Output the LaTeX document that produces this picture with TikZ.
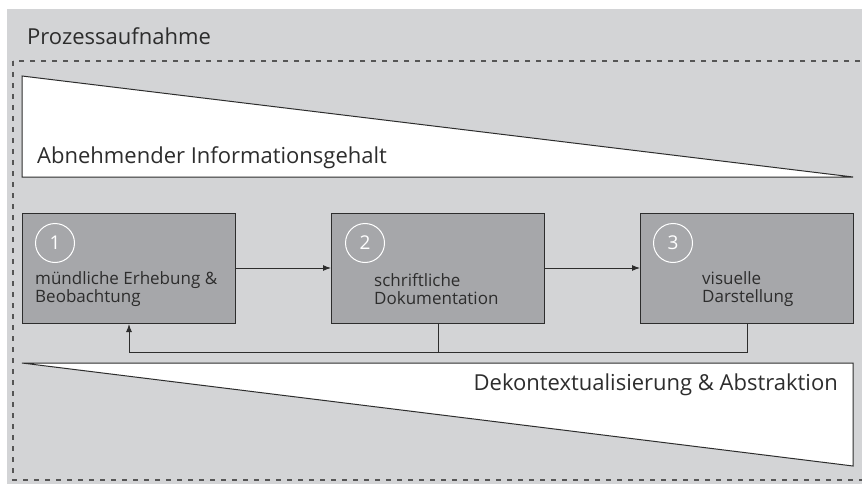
\documentclass[tikz,border=0pt]{standalone}
\usepackage{fontspec}
\setmainfont{Open Sans}
\usetikzlibrary{arrows.meta, positioning, calc}
\definecolor{bggray}{RGB}{211,212,214}
\definecolor{boxgray}{RGB}{166,167,170}
\definecolor{linegray}{RGB}{45,45,45}
\definecolor{dashgray}{RGB}{85,85,85}

\tikzset{
  procbox/.style={draw=linegray, fill=boxgray, line width=1pt, minimum width=213pt,
    minimum height=110pt, anchor=north west, inner sep=0pt},
  numcirc/.style={circle, draw=white, line width=1pt, minimum size=39pt,
    inner sep=0pt, text=white, font=\fontsize{19}{19}\selectfont},
  proctext/.style={anchor=west, align=left, text=linegray, inner sep=0pt,
    font=\fontsize{17}{18.5}\selectfont},
  bigtext/.style={text=linegray, inner sep=0pt, font=\fontsize{22}{22}\selectfont},
  flow/.style={-{Latex[length=8pt, width=6pt]}, draw=linegray, line width=1pt}
}

\begin{document}
\begin{tikzpicture}[x=1pt, y=-1pt]
  \useasboundingbox (0,0) rectangle (862,484);

  % background and dashed frame
  \fill[bggray] (7,9) rectangle (862,484);
  \begin{scope}
    \clip (7,9) rectangle (862,484);
    \draw[dashgray, line width=1.5pt, dash pattern=on 5pt off 6pt] (13,61) rectangle (870,480);
  \end{scope}
  \node[bigtext, anchor=west] (title) at (27,36) {Prozessaufnahme};

  % top wedge
  \draw[linegray, fill=white, line width=1pt] (22,76) -- (853,177) -- (22,177) -- cycle;
  \node[bigtext, anchor=west] (info) at (37,158) {Abnehmender Informationsgehalt};

  % bottom wedge
  \draw[linegray, fill=white, line width=1pt] (22,363) -- (853,363) -- (853,466) -- cycle;
  \node[bigtext, anchor=east] (abstr) at (838,385) {Dekontextualisierung \& Abstraktion};

  % process steps
  \node[procbox] (b1) at (22,213) {};
  \node[procbox] (b2) at (331,213) {};
  \node[procbox] (b3) at (640,213) {};

  \node[numcirc] (n1) at (55,243) {1};
  \node[numcirc] (n2) at (365,243) {2};
  \node[numcirc] (n3) at (673,243) {3};

  \node[proctext] (t1) at (35,289) {mündliche Erhebung \&\\Beobachtung};
  \node[proctext] (t2) at (374,289) {schriftliche\\Dokumentation};
  \node[proctext] (t3) at (702,289) {visuelle\\Darstellung};

  % connectors
  \draw[flow] (b1.east |- 0,268) -- (b2.west |- 0,268);
  \draw[flow] (b2.east |- 0,268) -- (b3.west |- 0,268);
  \draw[flow] (b3.south) -- ++(0,28) -| (b1.south);
  \draw[draw=linegray, line width=1pt] (b2.south) -- ++(0,28);
\end{tikzpicture}
\end{document}
